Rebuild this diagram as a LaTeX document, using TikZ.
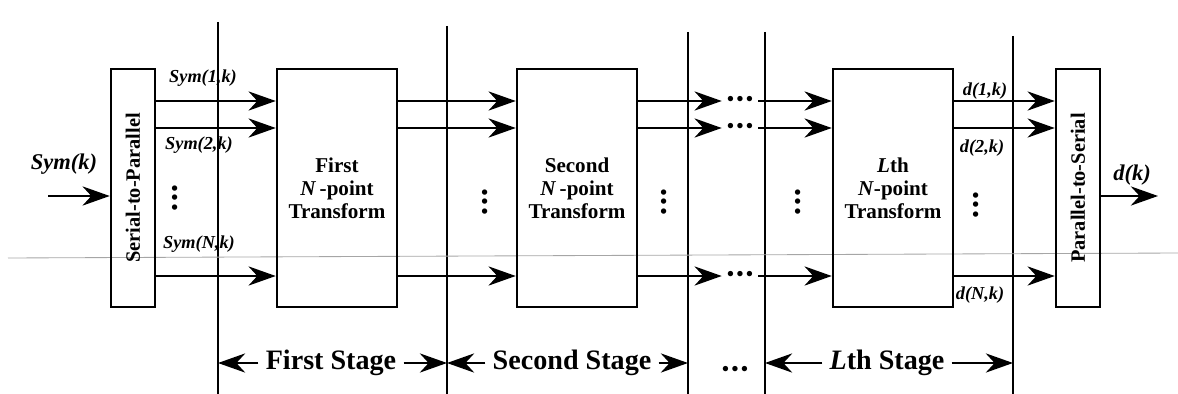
\documentclass[tikz,border=0pt]{standalone}
\usepackage{fontspec}
\setmainfont{Liberation Serif}
\usepackage{graphicx}
\usetikzlibrary{arrows.meta, positioning, calc}
\tikzset{
  >={Stealth[length=6.8mm,width=4.8mm,inset=2.2mm]},
  wire/.style={->, line width=1.6pt},
  guide/.style={line width=1.2pt},
  dim/.style={->, line width=1.4pt},
  xfm/.style={draw, line width=1.8pt, minimum width=3cm, minimum height=5.95cm,
      inner sep=0pt, align=center, font=\fontsize{15}{16.5}\selectfont\bfseries},
  conv/.style={draw, line width=1.8pt, minimum width=1.1cm, minimum height=5.95cm,
      inner sep=0pt, font=\fontsize{14.5}{16}\selectfont\bfseries},
  sig/.style={inner sep=1pt, font=\fontsize{13}{13}\selectfont\bfseries\itshape},
  bigsig/.style={inner sep=1pt, font=\fontsize{16}{16}\selectfont\bfseries\itshape},
  stagelab/.style={inner xsep=5pt, font=\fontsize{20}{20}\selectfont\bfseries},
  dotbox/.style={inner sep=0pt, minimum width=0.9cm, font=\fontsize{16}{16}\selectfont},
}
\newcommand{\dotrow}{\textbullet\kern1.2pt\textbullet\kern1.2pt\textbullet}

\begin{document}
\begin{tikzpicture}[x=0.025cm, y=-0.025cm]
\useasboundingbox (0,0) rectangle (1178,394);

% ===================== stage borders =====================
\coordinate (g1t) at (218,22);  \coordinate (g1b) at (218,394);
\coordinate (g2t) at (447,26);  \coordinate (g2b) at (447,394);
\coordinate (g3t) at (688,32);  \coordinate (g3b) at (688,394);
\coordinate (g4t) at (765,32);  \coordinate (g4b) at (765,394);
\coordinate (g5t) at (1013,36); \coordinate (g5b) at (1013,394);
\draw[guide] (g1t) -- (g1b);
\draw[guide] (g2t) -- (g2b);
\draw[guide] (g3t) -- (g3b);
\draw[guide] (g4t) -- (g4b);
\draw[guide] (g5t) -- (g5b);

% thin scan line
\draw[gray!70, line width=0.6pt] (8,258) -- (1178,253);

% signal rows
\coordinate (r1) at (0,101);
\coordinate (r2) at (0,128);
\coordinate (rN) at (0,276);

% ===================== blocks =====================
\node[conv] (sp) at (133,188) {\rotatebox{90}{Serial-to-Parallel}};
\node[xfm] (tA) at (337,188) {First\\\textit{N}\,-point\\Transform};
\node[xfm] (tB) at (577,188) {Second\\\textit{N}\,-point\\Transform};
\node[xfm] (tL) at (893,188) {\textit{L}th\\\textit{N}-point\\Transform};
\node[conv] (ps) at (1078,188) {\rotatebox{90}{Parallel-to-Serial}};

% ===================== input side =====================
\coordinate (in) at (48,196);
\draw[wire] (in) -- (in-|sp.west);
\node[bigsig] (symk) at (64,164) {Sym(k)};

\draw[wire] (sp.east|-r1) -- (tA.west|-r1);
\draw[wire] (sp.east|-r2) -- (tA.west|-r2);
\draw[wire] (sp.east|-rN) -- (tA.west|-rN);
\node[sig] (sym1) at (203,78) {Sym(1,k)};
\node[sig] (sym2) at (199,145) {Sym(2,k)};
\node[sig] (symN) at (199,244) {Sym(N,k)};
\node[dotbox, rotate=90] (v0) at (177,198) {\dotrow};

% ===================== first -> second =====================
\draw[wire] (tA.east|-r1) -- (tB.west|-r1);
\draw[wire] (tA.east|-r2) -- (tB.west|-r2);
\draw[wire] (tA.east|-rN) -- (tB.west|-rN);
\node[dotbox, rotate=90] (v1) at (487,202) {\dotrow};

% ===================== second -> Lth =====================
\node[dotbox] (h1) at (740,101) {\dotrow};
\node[dotbox] (h2) at (740,128) {\dotrow};
\node[dotbox] (hN) at (740,276) {\dotrow};
\draw[wire] (tB.east|-r1) -- (h1.west);
\draw[wire] (tB.east|-r2) -- (h2.west);
\draw[wire] (tB.east|-rN) -- (hN.west);
\draw[wire] (h1.east) -- (tL.west|-r1);
\draw[wire] (h2.east) -- (tL.west|-r2);
\draw[wire] (hN.east) -- (tL.west|-rN);
\node[dotbox, rotate=90] (v2) at (666,202) {\dotrow};
\node[dotbox, rotate=90] (v3) at (800,202) {\dotrow};

% ===================== output side =====================
\draw[wire] (tL.east|-r1) -- (ps.west|-r1);
\draw[wire] (tL.east|-r2) -- (ps.west|-r2);
\draw[wire] (tL.east|-rN) -- (ps.west|-rN);
\node[sig] (d1) at (985,91) {d(1,k)};
\node[sig] (d2) at (982,148) {d(2,k)};
\node[sig] (dN) at (980,295) {d(N,k)};
\node[dotbox, rotate=90] (v4) at (978,205) {\dotrow};

\coordinate (out) at (1158,196);
\draw[wire] (out-|ps.east) -- (out);
\node[bigsig] (dk) at (1132,175) {d(k)};

% ===================== stage labels =====================
\node[stagelab] (s1) at (331,363) {First Stage};
\node[stagelab] (s2) at (572,363) {Second Stage};
\node[stagelab] (sL) at (887,363) {\textit{L}th Stage};
\draw[dim] (s1.west) -- (s1.west-|g1b);
\draw[dim] (s1.east) -- (s1.east-|g2b);
\draw[dim] (s2.west) -- (s2.west-|g2b);
\draw[dim] (s2.east) -- (s2.east-|g3b);
\draw[dim] (sL.west) -- (sL.west-|g4b);
\draw[dim] (sL.east) -- (sL.east-|g5b);
\node[dotbox] (bd) at (735,371) {\dotrow};

\end{tikzpicture}
\end{document}
